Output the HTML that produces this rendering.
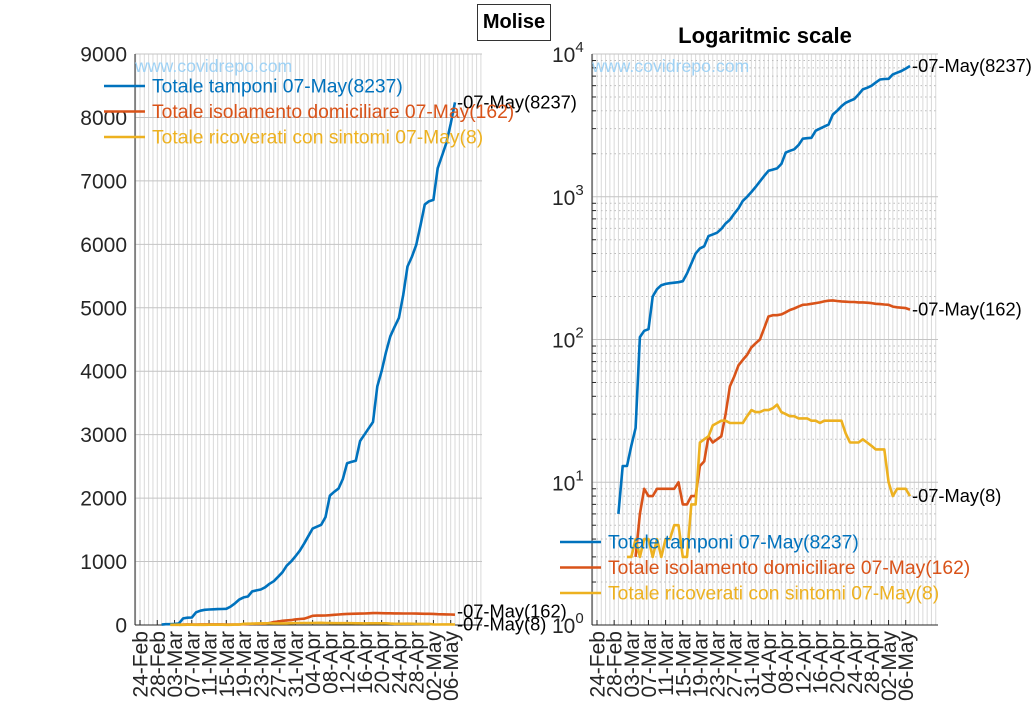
<!DOCTYPE html>
<html><head><meta charset="utf-8"><style>
body{margin:0;background:#fff;}
svg{display:block;font-family:"Liberation Sans",sans-serif;}
</style></head><body>
<svg id="c" width="1036" height="703" viewBox="0 0 1036 703"></svg>
<script>
const startDate = new Date(2020,1,24);
const tamponi = [null,null,null,null,null,6,13,13,18,24,104,115,118,200,225,240,245,248,250,252,256,290,340,400,435,450,530,545,560,595,650,690,760,830,935,1000,1080,1170,1280,1400,1520,1550,1580,1700,2040,2100,2150,2300,2550,2570,2590,2900,3000,3100,3200,3760,4000,4300,4550,4700,4840,5200,5650,5800,5990,6300,6630,6680,6700,7200,7400,7600,7900,8237];
const isolamento = [null,null,null,null,null,null,null,null,null,3,6,9,8,8,9,9,9,9,9,10,7,7,8,8,13,14,21,19,20,21,30,47,55,66,72,78,88,94,100,120,145,148,148,150,155,161,165,170,175,176,178,180,182,185,187,188,186,185,184,183,183,182,182,181,180,178,177,176,175,170,168,167,166,162];
const ricoverati = [null,null,null,null,null,null,null,3,3,4,3,4,4,3,4,3,4,4,5,5,3,3,7,7,19,20,21,25,26,27,27,26,26,26,26,29,32,31,31,32,32,33,35,31,30,29,29,28,28,28,27,27,26,27,27,27,27,27,22,19,19,19,20,19,18,17,17,17,10,8,9,9,9,8];
const seriesNames = ["Totale tamponi","Totale isolamento domiciliare","Totale ricoverati con sintomi"];
const colors = ["#0072BD","#D95319","#EDB120"];
const linTicks = [0,1000,2000,3000,4000,5000,6000,7000,8000,9000];
const logExps = [0,1,2,3,4];
const tickEvery = 4;

const NS="http://www.w3.org/2000/svg";
const svg=document.getElementById('c');
function mk(tag,attrs,parent){const e=document.createElementNS(NS,tag);for(const k in attrs)e.setAttribute(k,attrs[k]);(parent||svg).appendChild(e);return e;}
const months=["Jan","Feb","Mar","Apr","May","Jun"];
function dateLabel(d){const dt=new Date(startDate);dt.setDate(dt.getDate()+d);return String(dt.getDate()).padStart(2,'0')+'-'+months[dt.getMonth()];}
const nDays=tamponi.length;
const lastLabel=dateLabel(nDays-1);

const L={x0:135,x1:482,y0:54,y1:625,dx0:140,dpx:315/73};
const R={x0:592,x1:938,y0:54,y1:625,dx0:597,dpx:313/73};
function xL(d){return L.dx0+d*L.dpx;}
function xR(d){return R.dx0+d*R.dpx;}
function yL(v){return L.y1-(v-linTicks[0])/(linTicks[linTicks.length-1]-linTicks[0])*(L.y1-L.y0);}
function yR(v){const lo=logExps[0],hi=logExps[logExps.length-1];return R.y1-(Math.log10(v)-lo)/(hi-lo)*(R.y1-R.y0);}

function drawAxes(A,xf,name){
  const g=mk('g',{});
  
  
  const dmin=Math.ceil((A.x0-A.dx0)/A.dpx), dmax=Math.floor((A.x1-A.dx0)/A.dpx);
  for(let d=dmin;d<=dmax;d++){const x=xf(d);mk('line',{x1:x,x2:x,y1:A.y0,y2:A.y1,stroke:'#d9d9d9','stroke-width':1},g);}
  return g;
}
function xTicks(A,xf,name){
  const g=mk('g',{});
  
  
  for(let d=0;d<nDays;d+=tickEvery){
    const x=xf(d);
    mk('line',{x1:x,x2:x,y1:A.y1,y2:A.y1-5,stroke:'#262626'},g);
    const t=mk('text',{x:0,y:0,transform:`translate(${x+7.5},${A.y1+6}) rotate(-90)`,'text-anchor':'end','font-size':21,fill:'#262626'},g);
    t.textContent=dateLabel(d);
  }
}
function drawSeries(data,xf,yf,color,name,isLog){
  let d='';let pen=false;
  data.forEach((v,i)=>{if(v==null||(isLog&&v<=0)){pen=false;return;}d+=(pen?'L':'M')+xf(i).toFixed(1)+','+yf(v).toFixed(1);pen=true;});
  const p=mk('path',{d:d,fill:'none',stroke:color,'stroke-width':2.6,'stroke-linejoin':'round'});
  
  
}
function endLabel(x,y,txt,name){
  const t=mk('text',{x:x,y:y+6,'font-size':18.3,fill:'#000'});
  t.textContent=txt;
  
  
}
function legend(x,y,name){
  const g=mk('g',{});
  
  
  const lastVals=[tamponi[nDays-1],isolamento[nDays-1],ricoverati[nDays-1]];
  seriesNames.forEach((s,i)=>{
    const yy=y+i*25.5;
    mk('line',{x1:x,x2:x+41,y1:yy,y2:yy,stroke:colors[i],'stroke-width':2.6},g);
    const t=mk('text',{x:x+48,y:yy+6.5,'font-size':19.3,fill:colors[i]},g);
    t.textContent=`${s} ${lastLabel}(${lastVals[i]})`;
  });
}

// ===== Left plot =====
drawAxes(L,xL,'linear');
linTicks.forEach(v=>{
  const y=yL(v);
  mk('line',{x1:L.x0,x2:L.x1,y1:y,y2:y,stroke:'#c4c4c4'});
  const t=mk('text',{x:127,y:y+7.5,'text-anchor':'end','font-size':21,fill:'#262626'});
  t.textContent=v;
  
  
});
mk('line',{x1:L.x0,x2:L.x0,y1:L.y0,y2:L.y1,stroke:'#262626'});
mk('line',{x1:L.x0,x2:L.x1,y1:L.y1,y2:L.y1,stroke:'#262626'});
xTicks(L,xL,'linear');
const wm1=mk('text',{x:135,y:72,'font-size':17.7,fill:'#9fd2f5'});wm1.textContent='www.covidrepo.com';

drawSeries(tamponi,xL,yL,colors[0],'tamponi-line-linear',false);
drawSeries(isolamento,xL,yL,colors[1],'isolamento-line-linear',false);
drawSeries(ricoverati,xL,yL,colors[2],'ricoverati-line-linear',false);
endLabel(xL(nDays-1)+2,yL(tamponi[nDays-1]),`-${lastLabel}(${tamponi[nDays-1]})`,'end-label-tamponi');
endLabel(xL(nDays-1)+2,yL(isolamento[nDays-1])-3,`-${lastLabel}(${isolamento[nDays-1]})`,'end-label-isolamento');
endLabel(xL(nDays-1)+2,yL(ricoverati[nDays-1]),`-${lastLabel}(${ricoverati[nDays-1]})`,'end-label-ricoverati');
legend(104,86,'legend-linear');

// ===== Right plot =====
drawAxes(R,xR,'log');
for(let e=logExps[0];e<logExps[logExps.length-1];e++){
  for(let m=2;m<=9;m++){const y=yR(m*Math.pow(10,e));mk('line',{x1:R.x0,x2:R.x1,y1:y,y2:y,stroke:'#bdbdbd','stroke-dasharray':'1.5,3'});
    mk('line',{x1:R.x0,x2:R.x0+4,y1:y,y2:y,stroke:'#262626'});}
}
logExps.forEach(e=>{
  const y=yR(Math.pow(10,e));
  mk('line',{x1:R.x0,x2:R.x1,y1:y,y2:y,stroke:'#c4c4c4'});
  const t=mk('text',{x:552,y:y+8,'font-size':21,fill:'#262626'});
  t.innerHTML='10<tspan dy="-10" font-size="15">'+e+'</tspan>';
  
  
});
mk('line',{x1:R.x0,x2:R.x0,y1:R.y0,y2:R.y1,stroke:'#262626'});
mk('line',{x1:R.x0,x2:R.x1,y1:R.y1,y2:R.y1,stroke:'#262626'});
xTicks(R,xR,'log');
const wm2=mk('text',{x:592,y:72,'font-size':17.7,fill:'#9fd2f5'});wm2.textContent='www.covidrepo.com';

drawSeries(tamponi,xR,yR,colors[0],'tamponi-line-log',true);
drawSeries(isolamento,xR,yR,colors[1],'isolamento-line-log',true);
drawSeries(ricoverati,xR,yR,colors[2],'ricoverati-line-log',true);
endLabel(xR(nDays-1)+2,yR(tamponi[nDays-1]),`-${lastLabel}(${tamponi[nDays-1]})`,'end-label-tamponi-log');
endLabel(xR(nDays-1)+2,yR(isolamento[nDays-1]),`-${lastLabel}(${isolamento[nDays-1]})`,'end-label-isolamento-log');
endLabel(xR(nDays-1)+2,yR(ricoverati[nDays-1]),`-${lastLabel}(${ricoverati[nDays-1]})`,'end-label-ricoverati-log');
legend(560,542,'legend-log');
</script>
<div style="position:absolute;left:477px;top:4px;width:72px;height:35px;border:1px solid #333;background:#fff;font:bold 20px 'Liberation Sans',sans-serif;text-align:center;line-height:35px;">Molise</div>
<div style="position:absolute;left:615px;top:23px;width:300px;text-align:center;font:bold 22px 'Liberation Sans',sans-serif;color:#000;">Logaritmic scale</div>
</body></html>
